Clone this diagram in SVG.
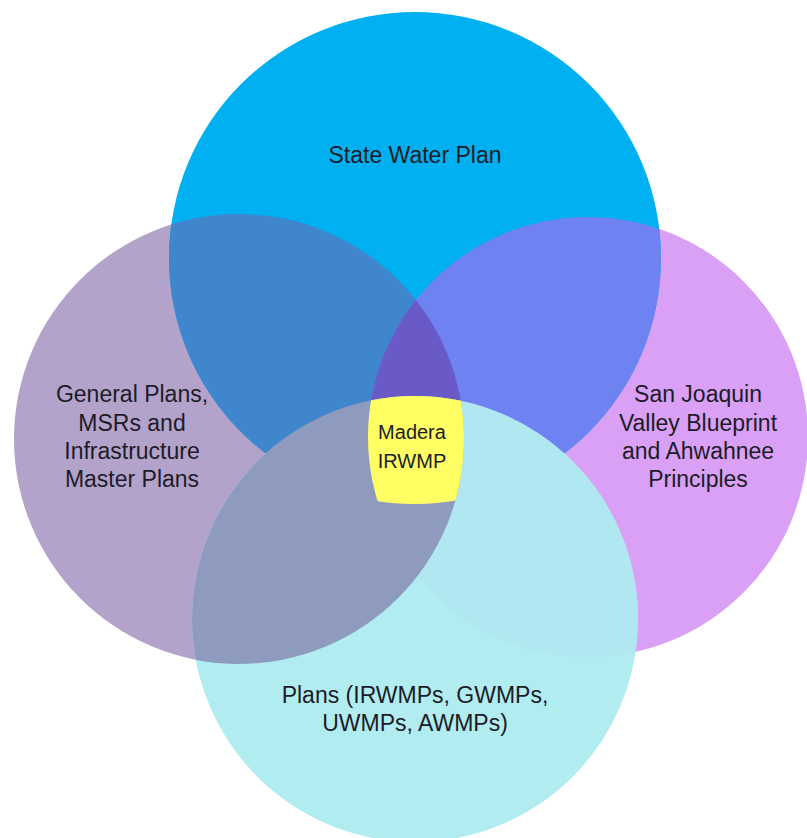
<svg xmlns="http://www.w3.org/2000/svg" width="807" height="838" viewBox="0 0 807 838">
<style>
text{font-family:"Liberation Sans",Arial,sans-serif;fill:#1c1c28;text-anchor:middle}
.lbl{font-size:23px}
.ctr{font-size:20px}
</style>
<defs>
<clipPath id="cT"><circle cx="415" cy="258" r="246"/></clipPath>
<clipPath id="cL"><circle cx="239" cy="439" r="225"/></clipPath>
<clipPath id="cR"><circle cx="588" cy="437" r="220"/></clipPath>
<clipPath id="cB"><circle cx="415" cy="619" r="223"/></clipPath>
</defs>
<rect width="807" height="838" fill="#ffffff"/>
<g id="node-left"><circle cx="239" cy="439" r="225" fill="#B3A2CA"/></g>
<g id="node-right"><circle cx="588" cy="437" r="220" fill="#D9A0F5"/></g>
<g id="node-top"><circle cx="415" cy="258" r="246" fill="#00B0F0"/></g>
<g id="node-bottom"><circle cx="415" cy="619" r="223" fill="#B1EDF0"/></g>
<g id="overlaps">
<g clip-path="url(#cL)"><circle cx="415" cy="258" r="246" fill="#3F86CD"/></g>
<g clip-path="url(#cR)"><circle cx="415" cy="258" r="246" fill="#6E83F1"/></g>
<g clip-path="url(#cL)"><g clip-path="url(#cR)"><circle cx="415" cy="258" r="246" fill="#6A5AC7"/></g></g>
<g clip-path="url(#cR)"><circle cx="415" cy="619" r="223" fill="#B0E7F0"/></g>
<g clip-path="url(#cL)"><circle cx="415" cy="619" r="223" fill="#8E9BBF"/></g>
</g>
<g id="node-center"><g clip-path="url(#cL)"><g clip-path="url(#cR)"><g clip-path="url(#cB)"><circle cx="415" cy="258" r="246" fill="#FFFF64"/></g></g></g>
<text class="ctr" x="412" y="439">Madera</text>
<text class="ctr" x="412" y="468">IRWMP</text>
</g>
<g id="labels">
<text class="lbl" x="415" y="163">State Water Plan</text>
<text class="lbl" x="132" y="402">General Plans,</text>
<text class="lbl" x="132" y="431">MSRs and</text>
<text class="lbl" x="132" y="459">Infrastructure</text>
<text class="lbl" x="132" y="487">Master Plans</text>
<text class="lbl" x="698" y="402">San Joaquin</text>
<text class="lbl" x="698" y="431">Valley Blueprint</text>
<text class="lbl" x="698" y="459">and Ahwahnee</text>
<text class="lbl" x="698" y="487">Principles</text>
<text class="lbl" x="415" y="703">Plans (IRWMPs, GWMPs,</text>
<text class="lbl" x="415" y="731">UWMPs, AWMPs)</text>
</g>
</svg>
